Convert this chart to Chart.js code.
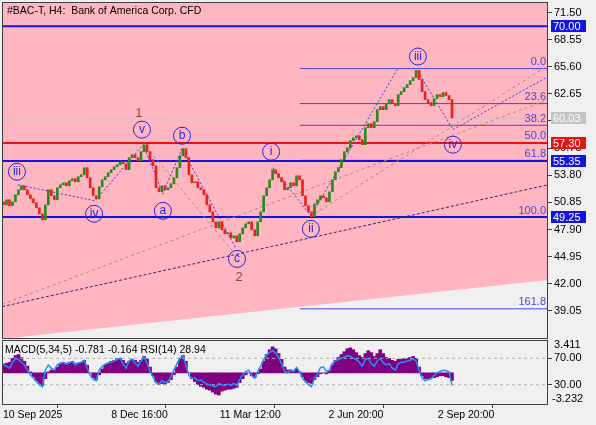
<!DOCTYPE html>
<html>
<head>
<meta charset="utf-8">
<script src="https://cdn.jsdelivr.net/npm/chart.js@4.4.1/dist/chart.umd.min.js"></script>
<style>
  html, body { margin: 0; padding: 0; background: #f0f0f0; }
  #wrap { position: relative; width: 596px; height: 425px; overflow: hidden; }
  #main { position: absolute; left: 0; top: 0; }
  #sub { position: absolute; left: 0; top: 338px; }
</style>
</head>
<body>
<div id="wrap">
  <canvas id="main" width="596" height="340"></canvas>
  <canvas id="sub" width="596" height="87"></canvas>
</div>
<script>
// --- données (H4, une bougie par index) ---
const closes = [
  50.58, 51.13, 50.48, 50.91, 51.67, 52.22, 52.65, 52.22, 51.67, 51.24,
  50.80, 50.26, 49.60, 48.95, 50.58, 52.22, 51.57, 51.13, 52.44, 52.76,
  52.98, 52.65, 53.20, 53.42, 53.09, 53.64, 53.85, 54.62, 53.53, 52.44,
  51.57, 51.24, 52.55, 53.31, 53.64, 54.07, 54.40, 54.72, 54.94, 55.27,
  55.05, 54.40, 55.71, 56.03, 55.71, 55.38, 56.36, 57.12, 56.36, 55.49,
  54.83, 52.44, 52.00, 52.65, 52.22, 52.44, 52.87, 53.53, 54.62, 55.92,
  56.69, 55.71, 53.85, 52.98, 53.09, 52.44, 52.22, 51.67, 50.58, 49.82,
  48.73, 48.08, 48.73, 47.86, 47.43, 47.54, 46.99, 47.21, 46.56, 47.43,
  48.08, 48.52, 48.73, 47.86, 47.21, 48.73, 49.82, 51.57, 52.44, 53.31,
  54.40, 53.96, 53.53, 53.09, 52.22, 52.44, 52.98, 52.65, 53.74, 53.31,
  51.57, 50.48, 49.82, 49.30, 50.69, 51.13, 51.57, 51.35, 50.91, 52.00,
  53.31, 54.18, 54.62, 55.49, 56.36, 56.79, 57.56, 57.88, 58.10, 57.67,
  57.12, 58.97, 59.41, 58.97, 59.63, 60.93, 61.26, 60.93, 61.59, 62.02,
  61.59, 61.37, 62.57, 62.89, 63.33, 63.66, 64.09, 64.42, 65.20, 64.20,
  62.89, 62.02, 61.70, 61.37, 62.13, 62.57, 62.35, 62.79, 62.46, 62.02,
  60.03
];
const firstOpen = 50.90;

const macd = [
  0.9, 1.0, 1.1, 1.5, 1.8, 1.9, 1.6, 1.2, 0.7, 0.1,
  -0.4, -0.8, -1.1, -1.3, -0.6, 0.1, 0.3, 0.3, 0.6, 0.9,
  1.1, 1.0, 1.1, 1.2, 1.0, 1.0, 1.1, 1.3, 0.8, 0.0,
  -0.5, -0.7, -0.2, 0.4, 0.8, 1.0, 1.2, 1.3, 1.5, 1.5,
  1.3, 1.0, 1.2, 1.4, 1.3, 1.1, 1.3, 1.7, 1.5, 0.6,
  -0.3, -0.9, -1.2, -1.1, -1.2, -1.0, -0.7, -0.2, 0.6, 1.4,
  1.8, 1.2, 0.0, -0.6, -0.9, -1.2, -1.4, -1.5, -1.7, -1.8,
  -2.0, -2.2, -2.3, -1.9, -1.8, -1.7, -1.7, -1.6, -1.5, -1.0,
  -0.6, -0.2, 0.0, -0.3, -0.5, -0.1, 0.4, 1.2, 1.9, 2.4,
  2.7, 2.5, 2.0, 1.4, 0.6, 0.3, 0.3, 0.2, 0.4, 0.1,
  -0.4, -0.8, -1.0, -1.1, -0.7, -0.4, -0.1, 0.0, -0.1, 0.2,
  0.8, 1.3, 1.6, 1.9, 2.2, 2.5, 2.6, 2.4, 2.1, 1.8,
  1.6, 2.0, 2.3, 2.1, 1.7, 2.0, 2.4, 2.0, 1.6, 1.5,
  1.3, 1.2, 1.4, 1.4, 1.5, 1.5, 1.6, 1.7, 1.5, 0.6,
  -0.3, -0.6, -0.6, -0.5, -0.5, -0.4, -0.3, -0.3, -0.4, -0.5,
  -0.781
];

const rsi = [
  60, 58, 55, 63, 70, 68, 64, 60, 52, 45,
  40, 35, 30, 27, 52, 60, 55, 52, 60, 63,
  64, 61, 63, 65, 60, 63, 64, 67, 55, 44,
  38, 36, 52, 58, 61, 63, 64, 66, 68, 70,
  62, 55, 66, 69, 63, 58, 66, 72, 63, 50,
  42, 33, 31, 36, 33, 35, 42, 52, 62, 70,
  74, 60, 44, 40, 40, 36, 37, 34, 31, 30,
  28, 27, 32, 30, 29, 31, 29, 32, 29, 38,
  45, 50, 52, 44, 40, 50, 58, 68, 75, 79,
  82, 78, 72, 62, 50, 48, 52, 50, 56, 50,
  40, 34, 30, 27, 40, 46, 56, 57, 50, 52,
  62, 66, 68, 70, 72, 74, 73, 70, 68, 64,
  58, 68, 70, 62, 58, 66, 70, 63, 60, 62,
  55, 52, 62, 64, 64, 66, 67, 69, 66, 52,
  40, 36, 38, 39, 44, 48, 50, 52, 51, 50,
  28.94
];

// axes
const xMin = -0.5, xMax = 182.1;
const yMin = 36.10, yMax = 72.64;
const priceTicks = [71.50, 68.55, 65.60, 62.65, 59.70, 56.75, 53.80, 50.85, 47.90, 44.95, 42.00, 39.05];
const timeTickPos = [-0.2, 36, 72.3, 108.7, 145.2];
const timeTickLabels = ['10 Sep 2025', '8 Dec 16:00', '11 Mar 12:00', '2 Jun 20:00', '2 Sep 20:00'];
const macdRange = [-3.232, 3.411];
const rsiRange = [0.8, 97.7];
const rsiLevels = [70, 30];

// niveaux horizontaux
const hLevels = [70.00, 57.30, 55.35, 49.25];
const hColors = ['#1414e0', '#e81414', '#1414e0', '#1414e0'];
const lastPrice = 60.03;
const badgeValues = [70.00, 60.03, 57.30, 55.35, 49.25];
const badgeColors = ['#1414e0', '#c4c4c4', '#e81414', '#1414e0', '#1414e0'];

// retracements de Fibonacci
const fibStart = 99.2;
const fibLevels = [65.40, 61.59, 59.23, 57.33, 55.42, 49.25, 39.27];
const fibNames = ['0.0', '23.6', '38.2', '50.0', '61.8', '100.0', '161.8'];

// zone rose (au-dessus de la limite)
const zoneX = [xMin, xMax];
const zoneLow = [36.00, 42.42];

// lignes de tendance
const trendDarkX = [-0.5, 182.1], trendDarkY = [39.51, 52.76];
const trendGrayX = [-0.5, 182.1], trendGrayY = [39.77, 62.02];
const trendSteepX = [102.5, 182.1], trendSteepY = [49.28, 65.73];
const wave1X = [4.85, 30.6, 46.7], wave1Y = [52.76, 51.02, 57.12];
const wave2X = [46.7, 53.3, 59.7, 77.8], wave2Y = [57.12, 51.78, 56.69, 45.79];
const wave3X = [47.7, 76.8], wave3Y = [56.90, 45.47];
const wave4X = [90.1, 102.8], wave4Y = [54.62, 49.39];
const chanX = [102.8, 131.9], chanY = [49.39, 65.40];
const wave5X = [138.6, 150.3], wave5Y = [65.07, 58.76];
const ivChanX = [150.3, 182.1], ivChanY = [58.76, 64.53];

// étiquettes d'Elliott
const waveText = ['iii', 'iv', 'v', 'a', 'b', 'c', 'i', 'ii', 'iii', 'iv'];
const waveX = [4.5, 30.3, 46.3, 53.3, 59.7, 78.1, 89.5, 102.8, 138.6, 150.3];
const waveY = [54.18, 49.61, 58.76, 49.93, 58.10, 44.70, 56.36, 47.97, 66.71, 57.12];
const degreeText = ['1', '2'];
const degreeX = [45.3, 78.8];
const degreeY = [60.5, 42.74];

const FONT = 'Liberation Sans, Arial, sans-serif';

// --- helpers ---
const opens = [firstOpen, ...closes.slice(0, -1)];
const path = (xs, ys) => xs.map((x, i) => ({ x, y: ys[i] }));
const flat = (v, x0 = xMin, x1 = xMax) => [{ x: x0, y: v }, { x: x1, y: v }];
const lineDs = (data, color, width, dash, order = 2) => ({
    type: 'line', data, borderColor: color, borderWidth: width,
    borderDash: dash || [], pointRadius: 0, fill: false, tension: 0, order
});
// largeur fixe de l'axe, sans marge ajoutée pour les libellés
const fixWidth = w => s => { s.width = w; s.paddingTop = 0; s.paddingBottom = 0; };

const mainDatasets = [
    { type: 'line', data: path(zoneX, zoneLow), fill: 'end', backgroundColor: '#ffb6c1',
      borderWidth: 0, pointRadius: 0, order: 10 },
    lineDs(flat(lastPrice), '#c8c8c8', 1, null, 5),
    ...fibLevels.map(v => lineDs(flat(v, fibStart), '#4646dc', 1, null, 4)),
    ...hLevels.map((v, i) => lineDs(flat(v), hColors[i], 2, null, 3)),
    lineDs(path(trendDarkX, trendDarkY), '#3a2470', 1, [3, 2]),
    lineDs(path(trendGrayX, trendGrayY), '#a88c84', 1, [3, 3]),
    lineDs(path(trendSteepX, trendSteepY), '#a88c84', 1, [3, 3]),
    lineDs(path(wave1X, wave1Y), '#3c3cd2', 1, [2, 2]),
    lineDs(path(wave2X, wave2Y), '#3c3cd2', 1, [2, 2]),
    lineDs(path(wave3X, wave3Y), '#a88c84', 1, [3, 3]),
    lineDs(path(wave4X, wave4Y), '#3c3cd2', 1, [2, 2]),
    lineDs(path(chanX, chanY), '#3c3cd2', 1, [2, 2]),
    lineDs(path(wave5X, wave5Y), '#3c3cd2', 1, [2, 2]),
    lineDs(path(ivChanX, ivChanY), '#3c3cd2', 1, [2, 2]),
    { type: 'bar', data: closes.map((c, i) => ({ x: i, y: [opens[i], c] })),
      backgroundColor: closes.map((c, i) => c >= opens[i] ? '#2a8a1e' : '#e8231c'),
      barThickness: 2, minBarLength: 1, order: 0 }
];

// dessin des étiquettes, du titre, du cadre et des badges
const mainOverlay = {
    id: 'mainOverlay',
    afterDatasetsDraw(chart) {
        const { ctx, chartArea: a, scales: { x, y } } = chart;
        ctx.save();
        ctx.beginPath();
        ctx.rect(a.left, a.top, a.right - a.left, a.bottom - a.top);
        ctx.clip();

        ctx.font = `11px ${FONT}`;
        ctx.fillStyle = '#4646dc';
        ctx.textAlign = 'right';
        ctx.textBaseline = 'bottom';
        fibLevels.forEach((v, i) => ctx.fillText(fibNames[i], a.right - 2, y.getPixelForValue(v) - 1));

        ctx.strokeStyle = '#2626d9';
        ctx.fillStyle = '#2626d9';
        ctx.lineWidth = 1;
        ctx.textAlign = 'center';
        ctx.textBaseline = 'middle';
        ctx.font = `12px ${FONT}`;
        waveText.forEach((t, i) => {
            const px = x.getPixelForValue(waveX[i]);
            const py = y.getPixelForValue(waveY[i]);
            ctx.beginPath();
            ctx.arc(px, py, 8.5, 0, Math.PI * 2);
            ctx.stroke();
            ctx.fillText(t, px, py);
        });

        ctx.fillStyle = '#a0412d';
        ctx.font = `13px ${FONT}`;
        degreeText.forEach((t, i) => ctx.fillText(t, x.getPixelForValue(degreeX[i]), y.getPixelForValue(degreeY[i])));
        ctx.restore();

        ctx.save();
        ctx.fillStyle = '#000';
        ctx.textAlign = 'left';
        ctx.textBaseline = 'middle';
        ctx.font = `10.5px ${FONT}`;
        ctx.fillText('#BAC-T, H4:  Bank of America Corp. CFD', 7, 11);
        ctx.restore();
    },
    afterDraw(chart) {
        const { ctx, chartArea: a, scales: { y } } = chart;
        ctx.save();
        ctx.strokeStyle = '#404040';
        ctx.lineWidth = 1;
        ctx.strokeRect(a.left + 0.5, a.top + 0.5, a.right - a.left - 1, a.bottom - a.top);
        ctx.font = `11px ${FONT}`;
        ctx.textAlign = 'left';
        ctx.textBaseline = 'middle';
        badgeValues.forEach((v, i) => {
            const py = Math.round(y.getPixelForValue(v));
            ctx.fillStyle = badgeColors[i];
            ctx.fillRect(a.right + 3, py - 6, 35, 12);
            ctx.fillStyle = '#fff';
            ctx.fillText(v.toFixed(2), a.right + 5, py + 0.5);
        });
        ctx.restore();
    }
};

new Chart(document.getElementById('main'), {
    type: 'bar',
    data: { datasets: mainDatasets },
    options: {
        responsive: false, animation: false, devicePixelRatio: 1,
        layout: { padding: { left: 2, top: 2, right: 0, bottom: 2 } },
        plugins: { legend: { display: false }, tooltip: { enabled: false } },
        scales: {
            x: { type: 'linear', min: xMin, max: xMax, offset: false, display: false },
            y: {
                position: 'right', min: yMin, max: yMax,
                afterFit: fixWidth(48),
                afterBuildTicks: s => { s.ticks = priceTicks.map(v => ({ value: v })); },
                ticks: { callback: v => v.toFixed(2), color: '#000', font: { family: FONT, size: 11 }, padding: 2, autoSkip: false },
                grid: { drawOnChartArea: false, drawTicks: true, tickLength: 4, color: '#404040' },
                border: { display: false }
            }
        }
    },
    plugins: [mainOverlay]
});

// --- sous-fenêtre MACD / RSI ---
const subOverlay = {
    id: 'subOverlay',
    afterDraw(chart) {
        const { ctx, chartArea: a, scales: { yMacd } } = chart;
        ctx.save();
        ctx.strokeStyle = '#404040';
        ctx.lineWidth = 1;
        ctx.strokeRect(a.left + 0.5, a.top + 0.5, a.right - a.left - 1, a.bottom - a.top);
        ctx.font = `11px ${FONT}`;
        ctx.fillStyle = '#000';
        ctx.textAlign = 'left';
        ctx.textBaseline = 'middle';
        ctx.fillText(macdRange[1].toFixed(3), a.right + 6, yMacd.getPixelForValue(macdRange[1]) + 5);
        ctx.fillText(macdRange[0].toFixed(3), a.right + 4, yMacd.getPixelForValue(macdRange[0]) - 5);
        ctx.font = `10.5px ${FONT}`;
        ctx.fillText('MACD(5,34,5) -0.781 -0.164 RSI(14) 28.94', 5, a.top + 10);
        ctx.restore();
    }
};

new Chart(document.getElementById('sub'), {
    type: 'bar',
    data: {
        datasets: [
            { type: 'bar', yAxisID: 'yMacd', data: macd.map((v, i) => ({ x: i, y: v })),
              backgroundColor: '#800080', barThickness: 3, order: 3 },
            ...rsiLevels.map(v => ({ type: 'line', yAxisID: 'yRsi', data: flat(v), borderColor: '#b4b4b4',
              borderWidth: 1, borderDash: [3, 3], pointRadius: 0, order: 2 })),
            { type: 'line', yAxisID: 'yRsi', data: rsi.map((v, i) => ({ x: i, y: v })),
              borderColor: '#1e90ff', borderWidth: 1.5, pointRadius: 0, tension: 0, order: 1 }
        ]
    },
    options: {
        responsive: false, animation: false, devicePixelRatio: 1,
        layout: { padding: { left: 2, top: 2, right: 0, bottom: 0 } },
        plugins: { legend: { display: false }, tooltip: { enabled: false } },
        scales: {
            x: {
                type: 'linear', min: xMin, max: xMax, offset: false, position: 'bottom',
                afterFit: s => { s.height = 21; s.paddingLeft = 0; s.paddingRight = 0; },
                afterBuildTicks: s => { s.ticks = timeTickPos.map(v => ({ value: v })); },
                ticks: { align: 'start', maxRotation: 0, autoSkip: false, color: '#000', padding: 1,
                         font: { family: FONT, size: 10.5 },
                         callback: v => timeTickLabels[timeTickPos.indexOf(v)] },
                grid: { drawOnChartArea: false, drawTicks: true, tickLength: 4, color: '#404040' },
                border: { display: false }
            },
            yMacd: { type: 'linear', position: 'left', display: false, min: macdRange[0], max: macdRange[1] },
            yRsi: {
                type: 'linear', position: 'right', min: rsiRange[0], max: rsiRange[1],
                afterFit: fixWidth(48),
                afterBuildTicks: s => { s.ticks = rsiLevels.map(v => ({ value: v })); },
                ticks: { callback: v => v.toFixed(2), color: '#000', font: { family: FONT, size: 11 }, padding: 2 },
                grid: { drawOnChartArea: false, drawTicks: true, tickLength: 4, color: '#404040' },
                border: { display: false }
            }
        }
    },
    plugins: [subOverlay]
});
</script>
</body>
</html>
